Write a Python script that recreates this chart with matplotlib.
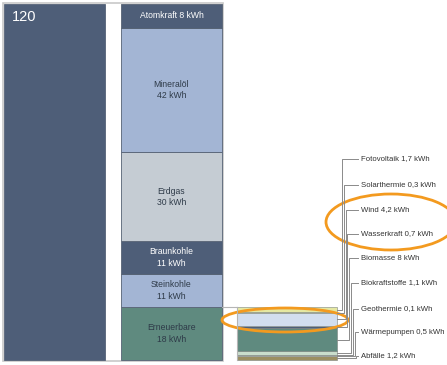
import matplotlib

matplotlib.use("Agg")
import matplotlib.pyplot as plt
from matplotlib.patches import Ellipse, Rectangle

plt.rcParams["font.family"] = ["Liberation Sans", "DejaVu Sans"]

# Primary energy use per person and day (kWh)
total = 120
sources = ["Erneuerbare", "Steinkohle", "Braunkohle", "Erdgas", "Mineralöl", "Atomkraft"]
source_kwh = [18, 11, 11, 30, 42, 8]
source_text = ["Erneuerbare\n18 kWh", "Steinkohle\n11 kWh", "Braunkohle\n11 kWh",
               "Erdgas\n30 kWh", "Mineralöl\n42 kWh", "Atomkraft 8 kWh"]

# Renewables breakdown, bottom to top
renew = ["Abfälle", "Wärmepumpen", "Geothermie", "Biokraftstoffe", "Biomasse",
         "Wasserkraft", "Wind", "Solarthermie", "Fotovoltaik"]
renew_kwh = [1.2, 0.5, 0.1, 1.1, 8, 0.7, 4.2, 0.3, 1.7]
renew_text = ["Abfälle 1,2 kWh", "Wärmepumpen 0,5 kWh", "Geothermie 0,1 kWh",
              "Biokraftstoffe 1,1 kWh", "Biomasse 8 kWh", "Wasserkraft 0,7 kWh",
              "Wind 4,2 kWh", "Solarthermie 0,3 kWh", "Fotovoltaik 1,7 kWh"]

SLATE = "#4e5e78"
PERI = "#a3b5d4"
source_colors = ["#5f8a7f", PERI, SLATE, "#c5ccd3", PERI, SLATE]
source_fg = ["#2e3a48", "#2e3a48", "white", "#2e3a48", "#2e3a48", "white"]
renew_colors = ["#9b8f62", "#e9e4ea", "#b891aa", "#c9ddcc", "#5f8a7f",
                SLATE, "#d2deef", "#dfe4cf", "#e5e8a2"]

# pixel layout: y axis in kWh, 120 kWh spans 356 px starting at pixel row 360
W, H = 447, 365
px_per_kwh = 356 / total
fig = plt.figure(figsize=(W / 100, H / 100), dpi=100)
ax = fig.add_axes([0, 0, 1, 1])
ax.set_xlim(0, W)
ax.set_ylim(-5 / px_per_kwh, 360 / px_per_kwh)
ax.axis("off")


def row(py):
    """Pixel row (from top) to kWh on the y axis."""
    return (360 - py) / px_per_kwh


# frame around the two main bars
ax.add_patch(Rectangle((3, row(361)), 220, row(3) - row(361), fill=False,
                       edgecolor="#c8c8c8", lw=1.2, zorder=0))

# total bar
ax.bar(54.5, total, width=101, bottom=0, color=SLATE, edgecolor="#45536a", lw=0.5)
ax.text(12, row(17), str(total), color="white", fontsize=10.5, va="center", ha="left")

# stacked sources
bottom = 0
for name, val, txt, col, fg in zip(sources, source_kwh, source_text, source_colors, source_fg):
    ax.bar(171.5, val, width=101, bottom=bottom, color=col, edgecolor="#566274", lw=0.6)
    ax.text(171.5, bottom + val / 2, txt, color=fg, fontsize=6.2, ha="center",
            va="center", linespacing=1.35)
    bottom += val

# renewables bar
renew_top = source_kwh[0]
ax.plot([222, 237], [renew_top, renew_top], color="#b5b5b5", lw=0.8)
ax.plot([237, 237], [0, renew_top], color="#b5b5b5", lw=0.8)
bottom = 0
mids = []
for val, col in zip(renew_kwh, renew_colors):
    ax.bar(287, val, width=100, bottom=bottom, color=col, edgecolor="#7d8580", lw=0.4)
    mids.append(bottom + val / 2)
    bottom += val

# labels with bracket connectors, top label first
label_rows = [356, 332, 309, 283, 258, 234, 210, 185, 159]
n = len(renew)
for i in range(n):
    k = n - 1 - i  # Fotovoltaik gets the leftmost bracket
    vx = 342 + 1.8 * k
    ly = row(label_rows[i])
    ax.plot([337, vx, vx, 358], [mids[i], mids[i], ly, ly], color="#8a8a8a", lw=0.7)
    ax.text(361, ly, renew_text[i], fontsize=5.6, color="#333333", ha="left", va="center")

# highlight ellipses
orange = "#f39a1f"
ax.add_patch(Ellipse((285, row(320)), 126, 24 / px_per_kwh, fill=False,
                     edgecolor=orange, lw=2))
ax.add_patch(Ellipse((391, row(222)), 130, 56 / px_per_kwh, fill=False,
                     edgecolor=orange, lw=2))

fig.savefig("out.png", dpi=100)
plt.close(fig)
